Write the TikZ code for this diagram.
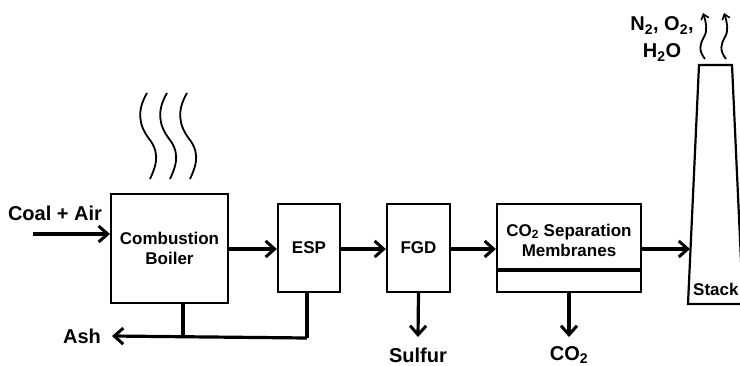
\documentclass[tikz,border=0pt]{standalone}
\usepackage{fontspec}
\setmainfont{Liberation Sans}
\usetikzlibrary{arrows.meta}
\begin{document}
\begin{tikzpicture}[x=1pt,y=-1pt,
  unit/.style={draw,line width=2.2pt,inner sep=0pt,align=center,
    font=\fontsize{17}{20}\selectfont\bfseries},
  lbl/.style={inner sep=0pt,align=center,font=\fontsize{20}{27}\selectfont\bfseries},
  flow/.style={line width=3.2pt,-{Straight Barb[length=9pt,width=16pt,line width=3pt]}},
  pipe/.style={line width=3.2pt},
  fume/.style={line width=1.8pt},
  vent/.style={line width=1.8pt,-{Straight Barb[length=5pt,width=8pt,line width=1.6pt]}}]
\useasboundingbox (0,0) rectangle (740,365);

% process units
\node[unit,minimum width=117pt,minimum height=109pt] (boiler) at (169.5,248.5) {Combustion\\Boiler};
\node[unit,minimum width=62pt,minimum height=88pt] (esp) at (309,248) {ESP};
\node[unit,minimum width=63pt,minimum height=88pt] (fgd) at (418.5,248) {FGD};
\node[unit,minimum width=144pt,minimum height=88pt] (mem) at (569,248) {};
\node[inner sep=0pt,align=center,font=\fontsize{17}{20}\selectfont\bfseries] (memtxt) at (569,240)
  {CO\textsubscript{2} Separation\\Membranes};
\draw[line width=3.2pt] (mem.west |- 0,270) -- (mem.east |- 0,270);

% stack
\coordinate (stTL) at (699,65);
\coordinate (stTR) at (732,65);
\coordinate (stBR) at (743,304);
\coordinate (stBL) at (688,304);
\draw[line width=2.2pt,line join=miter] (stBR) -- (stTR) -- (stTL) -- (stBL) -- (stBR);
\coordinate (stin) at (690,249);
\node[inner sep=0pt,anchor=west,font=\fontsize{17}{20}\selectfont\bfseries] (stacklbl) at (693,289) {Stack};

% labels
\node[lbl] (feed) at (55,213) {Coal + Air};
\node[lbl] (ash) at (82,336) {Ash};
\node[lbl] (sulfur) at (418,355) {Sulfur};
\node[lbl] (co2) at (569,355) {CO\textsubscript{2}};
\node[lbl] (flue) at (662,39) {N\textsubscript{2}, O\textsubscript{2},\\H\textsubscript{2}O};

% main gas path
\coordinate (feedin) at (33,234);
\draw[flow] (feedin) -- (boiler.west |- feedin);
\draw[flow] (boiler.east |- 0,249) -- (esp.west |- 0,249);
\draw[flow] (esp.east |- 0,249) -- (fgd.west |- 0,249);
\draw[flow] (fgd.east |- 0,249) -- (mem.west |- 0,249);
\draw[flow] (mem.east |- 0,249) -- (stin);

% by-products
\coordinate (ashjoin) at (307,338);
\draw[pipe] (boiler.south -| 183,0) -- (183,338);
\draw[pipe] (esp.south -| ashjoin) -- (ashjoin);
\draw[flow] (ashjoin) -- (ash.east -| 112,0) ;
\draw[flow] (fgd.south) -- (418,337);
\draw[flow] (mem.south) -- (569,337);

% heat from the boiler
\foreach \dx in {0,20,40}{
  \draw[fume,xshift=\dx pt] (147,93) .. controls (137,110) and (138,125) .. (150,140)
    .. controls (161,155) and (155,168) .. (150,179);
}

% exhaust leaving the stack
\foreach \dx in {0,21}{
  \draw[vent,xshift=\dx pt] (705,59) .. controls (698,50) and (700,44) .. (704,37)
    .. controls (708,30) and (706,22) .. (703,13);
}
\end{tikzpicture}
\end{document}
